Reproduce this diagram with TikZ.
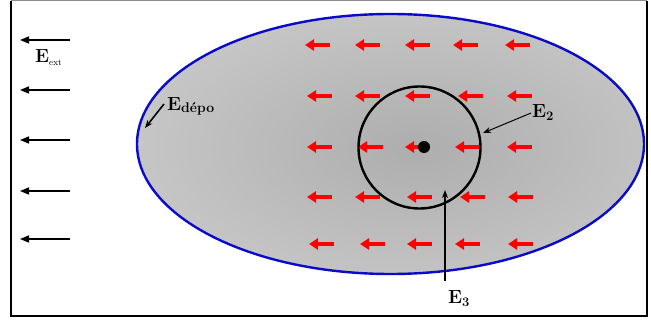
\documentclass[tikz,border=0pt]{standalone}
\usetikzlibrary{arrows.meta}
\definecolor{ellblue}{RGB}{10,10,200}
\begin{document}
\begin{tikzpicture}[x=1pt,y=-1pt,
  redarr/.style={draw=red, line width=3.6pt, -{Triangle[length=9pt,width=11pt]}},
  extarr/.style={draw=black, line width=1.6pt, -{Triangle[length=9pt,width=7pt]}},
  lblarr/.style={draw=black, line width=1pt, -{Stealth[length=8pt,width=6pt]}},
  lbl/.style={inner sep=0pt, anchor=base west, font=\fontsize{19}{19}\selectfont\bfseries}]
\useasboundingbox (0,0) rectangle (651,323);
% frame
\draw[black!45, line width=1pt] (11,1) -- (647,1);
\draw[black, line width=2pt] (11,1) -- (11,316) -- (647,316) -- (647,1);
% shaded ellipse
\begin{scope}
  \clip (390.5,144) ellipse (253.5pt and 130pt);
  \fill[black!15] (130,10) rectangle (650,280);
  \shade[inner color=black!32, outer color=black!14] (415,148) ellipse (520pt and 270pt);
\end{scope}
\draw[ellblue, line width=2.4pt] (390.5,144) ellipse (253.5pt and 130pt);
% red field arrows
\foreach \y/\xs in {45/{305,355,405,453,505}, 96/{307,355,405,458,507}, 197/{307,355,407,460,508}, 244/{309,360,407,455,508}}{
  \foreach \x in \xs { \draw[redarr] (\x+25,\y) -- (\x,\y); }
}
\foreach \x in {307,358,455,507} { \draw[redarr] (\x+25,147) -- (\x,147); }
\draw[redarr] (420,147) -- (405,147);
% circle and charge
\draw[black, line width=2.4pt] (419.5,147.5) circle (61pt);
\fill[black] (424,147) circle (6pt);
% external field arrows
\foreach \y in {40,90,140,191,239} { \draw[extarr] (70,\y) -- (20,\y); }
% labels
\node[lbl] (eext) at (35,63) {E\raisebox{-2.5pt}{\fontsize{9}{9}\selectfont\mdseries ext}};
\node[lbl] (edepo) at (167,111) {E\raisebox{-2pt}{\fontsize{14}{14}\selectfont dépo}};
\node[lbl] (e2) at (532,118) {E\raisebox{-3pt}{\fontsize{13}{13}\selectfont 2}};
\node[lbl] (e3) at (448,303) {E\raisebox{-4pt}{\fontsize{13}{13}\selectfont 3}};
% label connectors
\coordinate (tdepo) at (145,128);
\coordinate (t2) at (483,133);
\coordinate (t3) at (445,190);
\coordinate (s2) at (531,113);
\coordinate (s3) at (445,281);
\coordinate (sdepo) at (164,104);
\draw[lblarr, line width=1.6pt] (sdepo) -- (tdepo);
\draw[lblarr] (s2) -- (t2);
\draw[lblarr, line width=1.3pt] (s3) -- (t3);
\end{tikzpicture}
\end{document}
